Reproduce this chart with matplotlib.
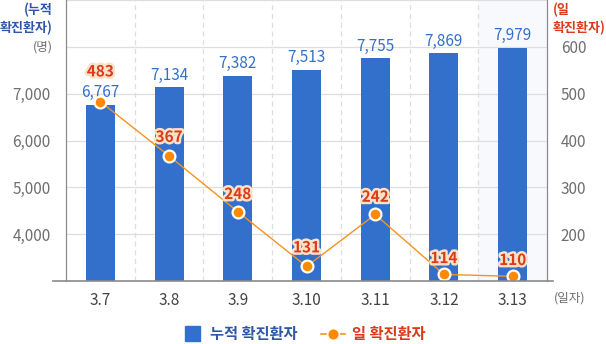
import matplotlib
matplotlib.use("Agg")
import matplotlib.pyplot as plt
import matplotlib.patheffects as pe
from matplotlib.lines import Line2D
from matplotlib.patches import Rectangle

plt.rcParams['font.family'] = ['Noto Sans CJK KR', 'DejaVu Sans']

# Data
dates = ['3.7', '3.8', '3.9', '3.10', '3.11', '3.12', '3.13']
cumulative = [6767, 7134, 7382, 7513, 7755, 7869, 7979]
daily = [483, 367, 248, 131, 242, 114, 110]
left_ticks = [4000, 5000, 6000, 7000]
right_ticks = [200, 300, 400, 500, 600]

BAR = '#3370cc'
LINE = '#f7931e'
DOT = '#ff8a00'
RED = '#dc3a1c'
NAVY = '#2f56a8'
GRAY = '#6f6f6f'

fig = plt.figure(figsize=(6.06, 3.44), dpi=100)
ax = fig.add_axes([66 / 606, 63 / 344, 481 / 606, 281 / 344])
ax2 = ax.twinx()

x = list(range(len(dates)))
ax.set_xlim(-0.5, len(dates) - 0.5)
ax.set_ylim(3000, 9000)
ax2.set_ylim(100, 700)

# highlighted last day column
ax.axvspan(len(dates) - 1.5, len(dates) - 0.5, color='#f8f9fd', zorder=0, lw=0)

# grid
for v in range(4000, 9001, 1000):
    ax.axhline(v, color='#dedede', lw=0.9, zorder=1)
for b in range(len(dates) - 1):
    ax.axvline(b + 0.5, color='#dedede', lw=0.9, ls=(0, (4, 3)), zorder=1)

ax.bar(x, cumulative, width=0.42, color=BAR, zorder=2)
for xi, v in zip(x, cumulative):
    ax.annotate(f'{v:,}', (xi, v), xytext=(0, 2.5), textcoords='offset points',
                ha='center', va='bottom', fontsize=11, color=BAR, zorder=5)

ax2.plot(x, daily, color=LINE, lw=1.0, zorder=3)
ax2.plot(x, daily, 'o', ms=8.5, mfc=DOT, mec='white', mew=1.6, zorder=4)
label_lift = [16, 8, 7, 8, 7, 6, 6]
halo = [pe.withStroke(linewidth=3.5, foreground='#fde2c8')]
for xi, v, lift in zip(x, daily, label_lift):
    ax2.annotate(f'{v}', (xi, v), xytext=(0, lift), textcoords='offset points',
                 ha='center', va='bottom', fontsize=11, fontweight='bold',
                 color=RED, path_effects=halo, zorder=6)

# axes styling
for a in (ax, ax2):
    a.spines['top'].set_visible(False)
    a.spines['bottom'].set_visible(False)
    a.spines['left'].set_color('#8a8a8a')
    a.spines['right'].set_color('#8a8a8a')

ax.set_xticks(x)
ax.set_xticklabels(dates, fontsize=11, color='#444444')
ax.tick_params(axis='x', length=0, pad=8)
ax.set_yticks(left_ticks)
ax.set_yticklabels([f'{v:,}' for v in left_ticks], fontsize=11, color=GRAY)
ax.tick_params(axis='y', length=0, pad=11)
ax2.set_yticks(right_ticks)
ax2.set_yticklabels([str(v) for v in right_ticks], fontsize=11, color=GRAY)
ax2.tick_params(axis='y', length=0, pad=10)

# baseline extending past both side axes
fig.add_artist(Line2D([53 / 606, 553 / 606], [63 / 344, 63 / 344], color='#8a8a8a', lw=1.2))

# axis titles
fig.text(53 / 606, 1 - 3 / 344, '(누적\n확진환자)', ha='right', va='top', fontsize=9.4,
         fontweight='bold', color=NAVY, linespacing=1.25)
fig.text(53 / 606, 1 - 47 / 344, '(명)', ha='right', va='center', fontsize=9, color=GRAY)
fig.text(553 / 606, 1 - 3 / 344, '(일\n확진환자)', ha='left', va='top', fontsize=9.4,
         fontweight='bold', color=RED, linespacing=1.25)
fig.text(554 / 606, 1 - 298 / 344, '(일자)', ha='left', va='center', fontsize=9, color=GRAY)

# legend
fig.add_artist(Rectangle((185 / 606, 1 - 341 / 344), 15 / 606, 15 / 344, color=BAR,
                         transform=fig.transFigure))
fig.text(210 / 606, 1 - 334 / 344, '누적 확진환자', ha='left', va='center', fontsize=11,
         fontweight='bold', color=NAVY)
fig.add_artist(Line2D([321 / 606, 345 / 606], [1 - 334 / 344] * 2, color=LINE, lw=1.2))
fig.add_artist(Line2D([333 / 606], [1 - 334 / 344], marker='o', ms=8.5, mfc=DOT,
                      mec='white', mew=1.2, color=LINE))
fig.text(352 / 606, 1 - 334 / 344, '일 확진환자', ha='left', va='center', fontsize=11,
         fontweight='bold', color=RED)

fig.savefig('out.png', dpi=100)
